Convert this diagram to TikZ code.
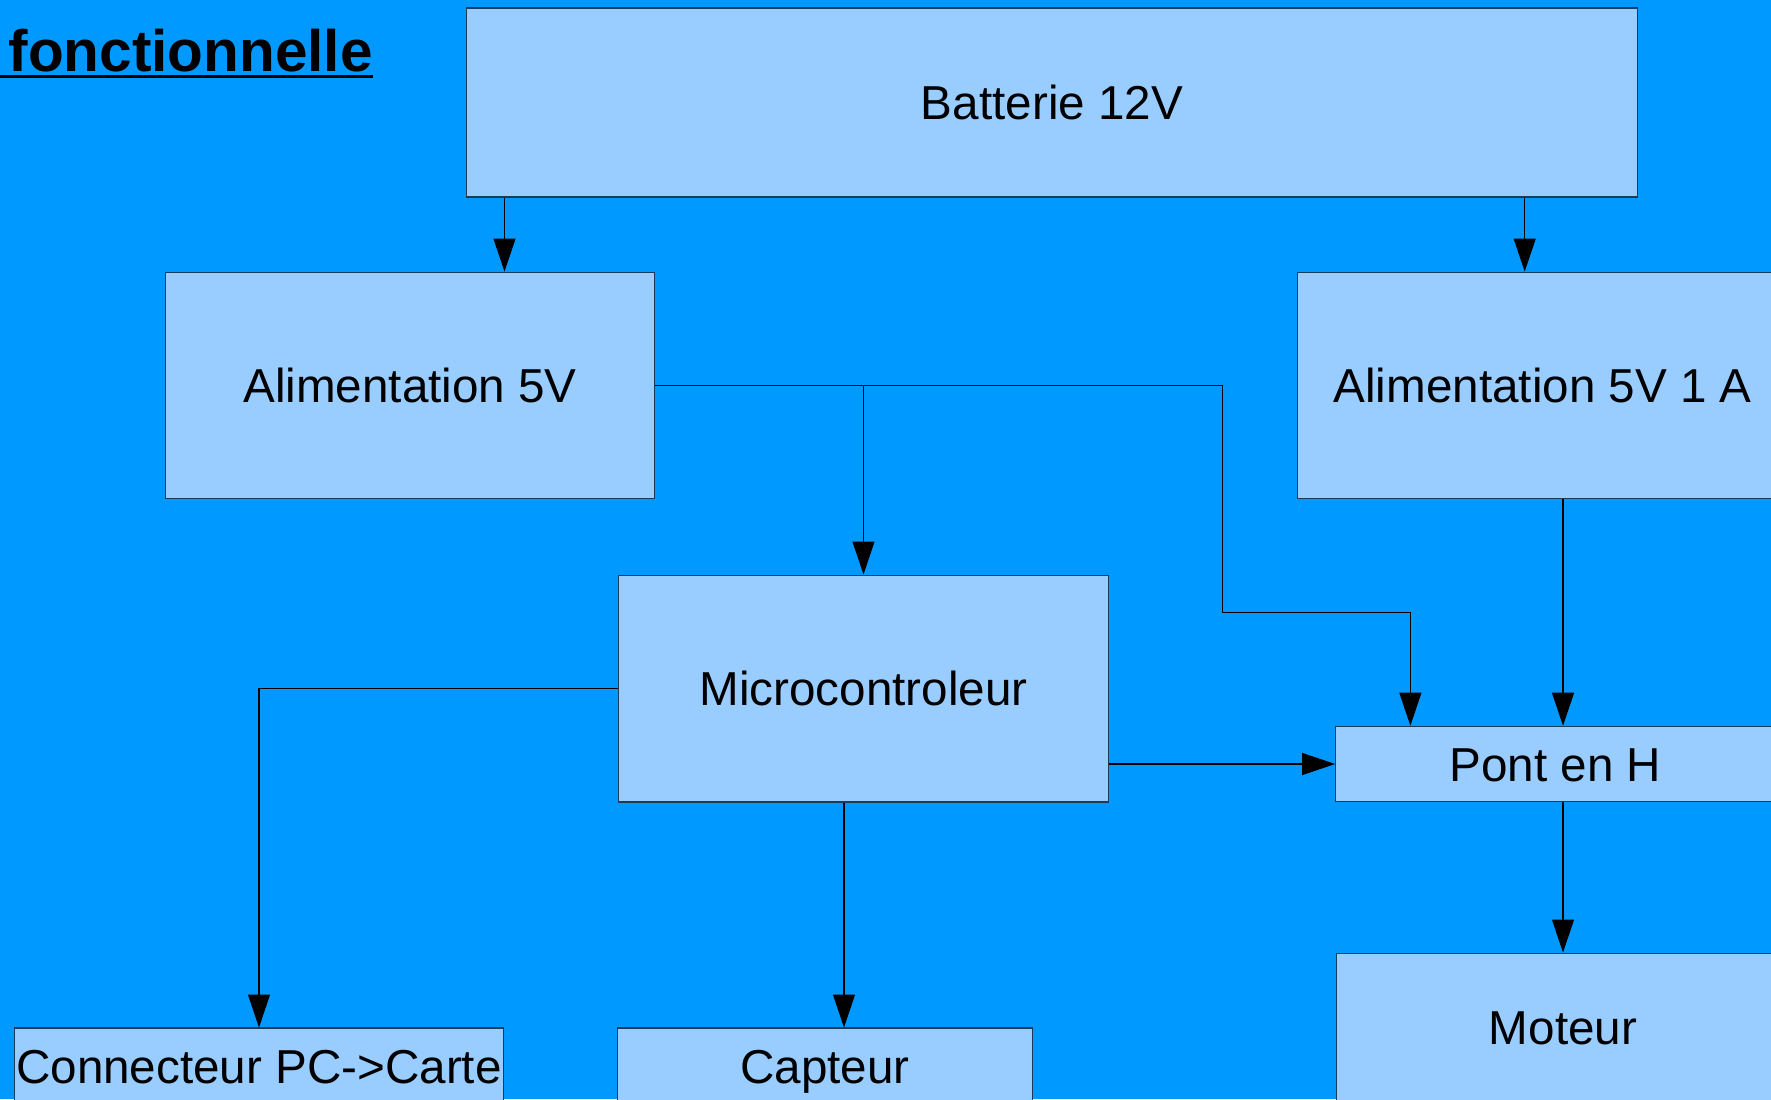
\documentclass[tikz,border=0pt]{standalone}
\usepackage{fontspec}
\setsansfont{Liberation Sans}
\usetikzlibrary{arrows.meta, positioning, calc}
\definecolor{cfond}{HTML}{0099FF}
\definecolor{cboite}{HTML}{99CCFF}
\definecolor{cbord}{HTML}{1B3B5A}
\tikzset{
  every picture/.style={font=\sffamily, line width=0.6pt},
  box/.style 2 args={draw=cbord, fill=cboite, inner sep=0pt, minimum width=#1, minimum height=#2,
    text height=19.4pt, text depth=0pt, font=\sffamily\fontsize{27.1pt}{32pt}\selectfont},
  fleche/.style={-{Triangle[length=0.66cm, width=0.44cm]}, draw=black, line width=0.6pt},
  title/.style={font=\sffamily\bfseries\fontsize{33.3pt}{40pt}\selectfont, inner sep=0pt},
}

\begin{document}
\begin{tikzpicture}[x=0.02cm, y=-0.02cm]
  \useasboundingbox (0,0) rectangle (1771,1099);
  \clip (0,0) rectangle (1771,1099);
  \fill[cfond] (0,0) rectangle (1771,1099);
  % titre
  \node[title, anchor=base west] (titre) at (8,71.7) {fonctionnelle};
  \coordinate (souligne) at (0,76.3);
  \draw[line width=1.9pt] (souligne) -- (souligne -| titre.east);
  % blocs
  \node[box={23.43cm}{3.78cm}] (batt) at (1052,102.5) {Batterie 12V};
  \node[box={9.8cm}{4.53cm}] (alim) at (410,385.3) {Alimentation 5V};
  \node[box={9.8cm}{4.53cm}] (alim1a) at (1542.7,385.3) {Alimentation 5V 1 A};
  \node[box={9.82cm}{4.54cm}] (micro) at (863.5,688.5) {Microcontroleur};
  \node[box={8.79cm}{1.51cm}] (pont) at (1555.4,764) {Pont en H};
  \node[box={9.08cm}{2.96cm}] (moteur) at (1563,1027) {Moteur};
  \node[box={9.8cm}{1.52cm}] (conn) at (259,1066) {Connecteur PC->Carte};
  \node[box={8.3cm}{1.52cm}] (capt) at (825,1066) {Capteur};
  % points d'entree
  \coordinate (alim-in) at ($(alim.north)+(94.5,0)$);
  \coordinate (alim1a-in) at ($(alim1a.north)+(-18,0)$);
  \coordinate (pont-in) at ($(pont.north west)+(75.2,0)$);
  \coordinate (capt-in) at ($(capt.north)+(19,0)$);
  \coordinate (coude) at (1222.6,612.3);
  % liaisons
  \draw[fleche] (alim-in |- batt.south) -- (alim-in);
  \draw[fleche] (alim1a-in |- batt.south) -- (alim1a-in);
  \draw[fleche] (alim.east) -| (micro.north);
  \draw[fleche] (alim.east) -| (coude) -| (pont-in);
  \draw[fleche] (alim1a.south -| moteur.north) -- (pont.north -| moteur.north);
  \draw[fleche] (micro.east |- pont.west) -- (pont.west);
  \draw[fleche] (pont.south -| moteur.north) -- (moteur.north);
  \draw[fleche] (micro.west) -| (conn.north);
  \draw[fleche] (capt-in |- micro.south) -- (capt-in);
\end{tikzpicture}
\end{document}
